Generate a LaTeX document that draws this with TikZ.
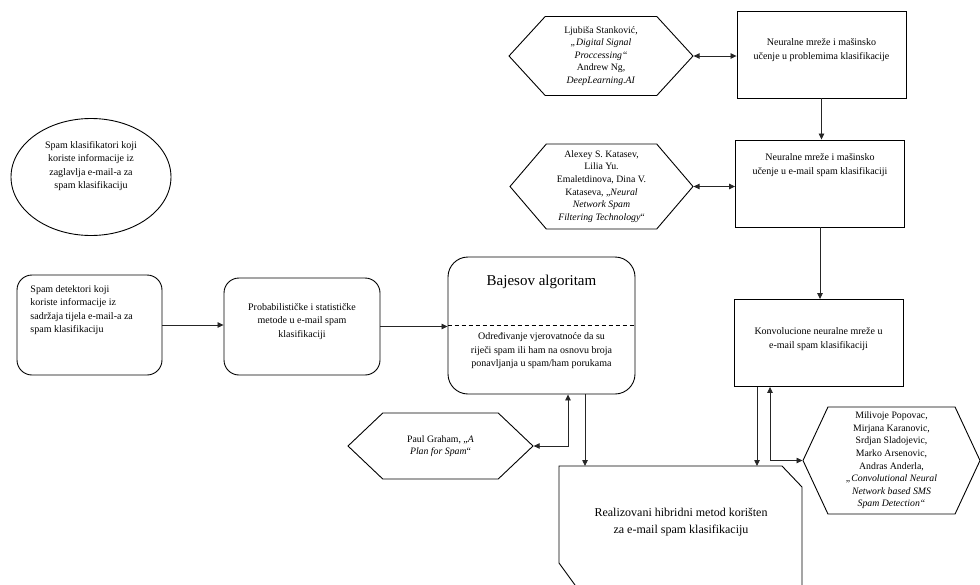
\documentclass[tikz,border=0pt]{standalone}
\usepackage{fontspec}
\setmainfont{Liberation Serif}
\usetikzlibrary{shapes.geometric,shapes.symbols,arrows.meta,positioning}

\begin{document}
\begin{tikzpicture}[x=1pt,y=-1pt,
    font=\fontsize{10}{13.5}\selectfont,line width=0.9pt,
    sqbox/.style={draw,minimum width=169,minimum height=87},
    rbox/.style={draw,rounded corners=15},
    hexa/.style={draw,signal,signal to=west and east,align=center,inner sep=1pt,
      font=\fontsize{9.8}{12.6}\selectfont},
    txt/.style={align=center,inner sep=0pt},
    link/.style={draw=black!85,line width=0.8pt,-{Triangle[length=6pt,width=5.5pt]}},
    both/.style={draw=black!85,line width=0.8pt,{Triangle[length=6pt,width=5.5pt]}-{Triangle[length=6pt,width=5.5pt]}}]
  \useasboundingbox (0,0) rectangle (980,584);

  \node[draw,ellipse,minimum width=160,minimum height=117] (hdr) at (91,177) {};
  \node[txt] (hdrt) at (91,166)
    {Spam klasifikatori koji\\koriste informacije iz\\zaglavlja e-mail-a za\\spam klasifikaciju};

  \node[rbox,minimum width=145,minimum height=100] (body) at (89.5,325) {};
  \node[anchor=north west,align=left,inner sep=0pt] (bodyt) at (30,285)
    {Spam detektori koji\\koriste informacije iz\\sadržaja tijela e-mail-a za\\spam klasifikaciju};
  \node[rbox,minimum width=156,minimum height=97] (prob) at (302,326.5) {};
  \node[txt] (probt) at (302,321.5)
    {Probabilističke i statističke\\metode u e-mail spam\\klasifikaciji};

  \node[rbox,rounded corners=20,minimum width=187,minimum height=137] (bayes) at (541.5,325.5) {};
  \draw[line width=0.8pt,dash pattern=on 4pt off 3pt] (bayes.west) -- (bayes.east);
  \node[txt,font=\fontsize{15}{18}\selectfont] (bayest) at (541.5,282) {Bajesov algoritam};
  \node[txt] (bayesd) at (541.5,351)
    {Određivanje vjerovatnoće da su\\riječi spam ili ham na osnovu broja\\ponavljanja u spam/ham porukama};

  \node[hexa,minimum width=184,minimum height=79,signal pointer angle=95] (lit1) at (601,56)
    {Ljubiša Stanković,\\\textit{„Digital Signal}\\\textit{Proccessing“}\\Andrew Ng,\\\textit{DeepLearning.AI}};
  \node[hexa,minimum width=183,minimum height=85,signal pointer angle=99] (lit2) at (601.5,186.5)
    {Alexey S. Katasev,\\Lilia Yu.\\Emaletdinova, Dina V.\\Kataseva, „\textit{Neural}\\\textit{Network Spam}\\\textit{Filtering Technology}“};
  \node[hexa,minimum width=185,minimum height=66,signal pointer angle=87] (paul) at (440.5,446)
    {Paul Graham, „\textit{A}\\\textit{Plan for Spam}“};
  \node[hexa,minimum width=177,minimum height=107,signal pointer angle=130] (mil) at (891.5,460.5)
    {Milivoje Popovac,\\Mirjana Karanovic,\\Srdjan Sladojevic,\\Marko Arsenovic,\\Andras Anderla,\\\textit{„Convolutional Neural}\\\textit{Network based SMS}\\\textit{Spam Detection“}};

  \node[sqbox] (nn1) at (821.5,54.5) {};
  \node[txt] (nn1t) at (821.5,50) {Neuralne mreže i mašinsko\\učenje u problemima klasifikacije};
  \node[sqbox] (nn2) at (820,183.5) {};
  \node[txt] (nn2t) at (820,165) {Neuralne mreže i mašinsko\\učenje u e-mail spam klasifikaciji};
  \node[sqbox] (nn3) at (818.5,343) {};
  \node[txt] (nn3t) at (818.5,339) {Konvolucione neuralne mreže u\\e-mail spam klasifikaciji};

  \coordinate (hybtop) at (559,466);
  \draw (575,585) -- (559,563) -- (hybtop) -- (782,466) -- (802,487) -- (802,585);
  \node[txt,font=\fontsize{12}{17}\selectfont] (hyb) at (681,522)
    {Realizovani hibridni metod korišten\\za e-mail spam klasifikaciju};

  \draw[both] (lit1.east) -- (lit1.east -| nn1.west);
  \draw[link] (nn1.south) -- (nn1.south |- nn2.north);
  \draw[both] (lit2.east) -- (lit2.east -| nn2.west);
  \draw[link] (nn2.south) -- (nn2.south |- nn3.north);
  \draw[link] (body.east) -- (body.east -| prob.west);
  \draw[link] (prob.east) -- (prob.east -| bayes.west);
  \draw[both] (paul.east) -| ([xshift=26.5]bayes.south);
  \draw[link] ([xshift=43.5]bayes.south) -- ([xshift=43.5]bayes.south |- hybtop);
  \draw[link] ([xshift=-61.5]nn3.south) -- ([xshift=-61.5]nn3.south |- hybtop);
  \draw[both] (mil.west) -| ([xshift=-48.5]nn3.south);
\end{tikzpicture}
\end{document}
